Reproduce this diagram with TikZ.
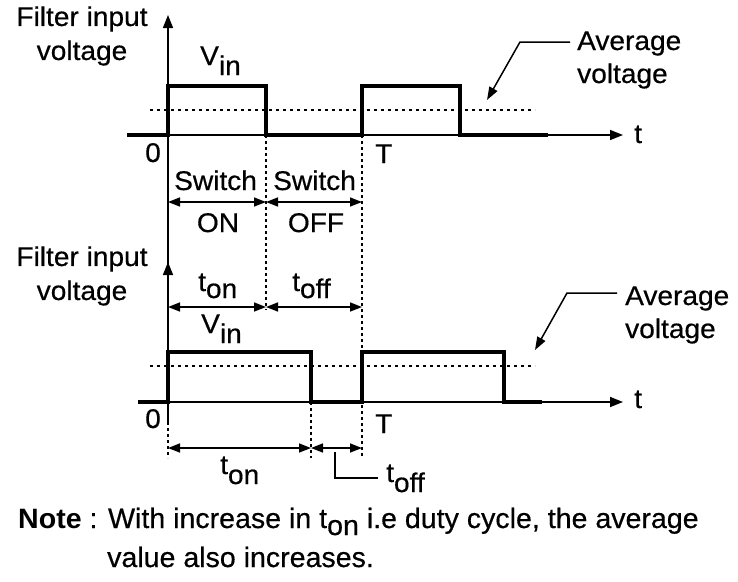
\documentclass[tikz,border=0pt]{standalone}
\usepackage{fontspec}
\setmainfont{Liberation Sans}
\newfontfamily\lblfont[FakeStretch=1.04,FakeBold=0.5]{Liberation Sans}
\newfontfamily\notefont[FakeStretch=1.02,FakeBold=0.5]{Liberation Sans}
\newfontfamily\notebold[FakeStretch=1.02]{Liberation Sans Bold}
\usetikzlibrary{arrows.meta}
\newcommand\lowsub[1]{\raisebox{-7pt}{#1}}
\newcommand\lowersub[1]{\raisebox{-10pt}{#1}}
\begin{document}
\begin{tikzpicture}[x=1pt,y=-1pt,
  lbl/.style={font=\lblfont\fontsize{27}{32}\selectfont, inner sep=0pt, anchor=base west},
  ctr/.style={font=\lblfont\fontsize{27}{34}\selectfont, inner sep=0pt, align=center},
  axisline/.style={line width=1.5pt, -{Triangle[length=13pt,width=10pt]}},
  wave/.style={line width=4pt, line join=miter, line cap=butt},
  avgline/.style={line width=1.6pt, dash pattern=on 3pt off 4pt},
  guide/.style={line width=2pt, dash pattern=on 3pt off 3pt},
  dimarrow/.style={line width=1.5pt, {Triangle[length=12pt,width=9pt]}-{Triangle[length=12pt,width=9pt]}},
  leader/.style={line width=1.5pt},
  leaderarrow/.style={line width=1.5pt, -{Triangle[length=13pt,width=9pt]}},
  notestyle/.style={font=\notefont\fontsize{28}{32}\selectfont, inner sep=0pt, anchor=base west}
]
\fill[white] (0,0) rectangle (738,581);
\useasboundingbox (0,0) rectangle (738,581);

% ---------- coordinates ----------
\coordinate (ytop1) at (168,15);
\coordinate (ytop2) at (168,262);
\coordinate (ybot) at (168,423);
\coordinate (x1s) at (127,135);
\coordinate (x1e) at (623,135);
\coordinate (x2s) at (138,402);
\coordinate (x2e) at (623,402);

\coordinate (a1) at (168,135); \coordinate (a2) at (168,86);
\coordinate (a3) at (266,86);  \coordinate (a4) at (266,135);
\coordinate (a5) at (362,135); \coordinate (a6) at (362,86);
\coordinate (a7) at (460,86);  \coordinate (a8) at (460,135);
\coordinate (a9) at (548,135);

\coordinate (b1) at (168,402); \coordinate (b2) at (168,352);
\coordinate (b3) at (311,352); \coordinate (b4) at (311,402);
\coordinate (b5) at (362,402); \coordinate (b6) at (362,352);
\coordinate (b7) at (504,352); \coordinate (b8) at (504,402);
\coordinate (b9) at (542,402);

% ---------- axes ----------
\draw[axisline] (ybot) -- (ytop1);
\draw[axisline] (ybot) -- (ytop2);
\draw[axisline] (x1s) -- (x1e);
\draw[axisline] (x2s) -- (x2e);

% ---------- waveforms ----------
\draw[wave] (x1s) -- (a1) -- (a2) -- (a3) -- (a4) -- (a5) -- (a6) -- (a7) -- (a8) -- (a9);
\draw[wave] (x2s) -- (b1) -- (b2) -- (b3) -- (b4) -- (b5) -- (b6) -- (b7) -- (b8) -- (b9);

% ---------- average lines ----------
\coordinate (avg1s) at (150,110); \coordinate (avg1e) at (535,110);
\coordinate (avg2s) at (150,366); \coordinate (avg2e) at (535,366);
\draw[avgline] (avg1s) -- (avg1e);
\draw[avgline] (avg2s) -- (avg2e);

% ---------- guides ----------
\coordinate (g1e) at (266,310);
\coordinate (g2e) at (362,457);
\coordinate (g3s) at (168,404); \coordinate (g3e) at (168,458);
\coordinate (g4e) at (311,458);
\draw[guide] (a4) -- (g1e);
\draw[guide] (a5) -- (g2e);
\draw[guide] (g3s) -- (g3e);
\draw[guide] (b4) -- (g4e);

% ---------- dimension arrows ----------
\coordinate (d1a) at (168,202); \coordinate (d1b) at (266,202); \coordinate (d1c) at (362,202);
\coordinate (d2a) at (168,307); \coordinate (d2b) at (266,307); \coordinate (d2c) at (362,307);
\coordinate (d3a) at (168,448); \coordinate (d3b) at (311,448); \coordinate (d3c) at (362,448);
\draw[dimarrow] (d1a) -- (d1b);
\draw[dimarrow] (d1b) -- (d1c);
\draw[dimarrow] (d2a) -- (d2b);
\draw[dimarrow] (d2b) -- (d2c);
\draw[dimarrow] (d3a) -- (d3b);
\draw[dimarrow] (d3b) -- (d3c);

% ---------- labels, top plot ----------
\node[ctr] (ylab1) at (82,36) {Filter input\\voltage};
\node[lbl] (vin1) at (200,65) {V\lowersub{in}};
\node[lbl] (zero1) at (145,162) {0};
\node[lbl] (T1) at (375,163) {T};
\node[lbl] (t1) at (634,143) {t};
\node[lbl] (sw1) at (174,190) {Switch};
\node[lbl] (sw2) at (273,190) {Switch};
\node[lbl, anchor=base] (on1) at (218,232) {ON};
\node[lbl, anchor=base] (off1) at (316,232) {OFF};
\node[lbl] (avglab1) at (577,50) {Average};
\node[lbl] (avglab1b) at (577,83) {voltage};

% ---------- labels, bottom plot ----------
\node[ctr] (ylab2) at (82,276) {Filter input\\voltage};
\node[lbl] (ton1) at (198,291) {t\lowsub{on}};
\node[lbl] (toff1) at (292,291) {t\lowsub{off}};
\node[lbl] (vin2) at (201,333) {V\lowersub{in}};
\node[lbl] (zero2) at (145,428) {0};
\node[lbl] (T2) at (375,433) {T};
\node[lbl] (t2) at (634,408) {t};
\node[lbl] (avglab2) at (625,305) {Average};
\node[lbl] (avglab2b) at (625,338) {voltage};
\node[lbl] (ton2) at (220,474) {t\lowersub{on}};
\node[lbl] (toff2) at (386,482) {t\lowersub{off}};

% ---------- leaders ----------
\coordinate (l1a) at (570,42); \coordinate (l1b) at (520,42); \coordinate (l1c) at (487,100);
\draw[leaderarrow] (l1a) -- (l1b) -- (l1c);
\coordinate (l2a) at (617,293); \coordinate (l2b) at (567,293); \coordinate (l2c) at (535,350);
\draw[leaderarrow] (l2a) -- (l2b) -- (l2c);
\coordinate (l3a) at (335,452); \coordinate (l3b) at (335,478); \coordinate (l3c) at (378,478);
\draw[leader] (l3a) -- (l3b) -- (l3c);

% ---------- note ----------
\node[notestyle] (note1) at (18,528) {{\notebold Note} : With increase in t\lowsub{on} i.e duty cycle, the average};
\node[notestyle] (note2) at (107,567) {value also increases.};
\end{tikzpicture}
\end{document}
